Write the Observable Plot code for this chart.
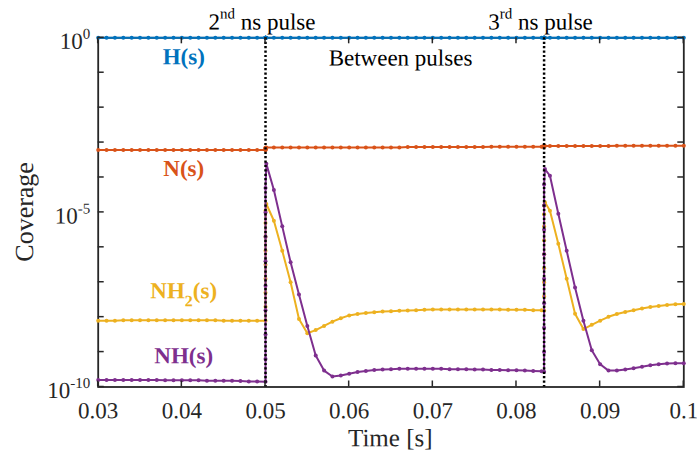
<!DOCTYPE html>
<html><head><meta charset="utf-8">
<script src="https://cdn.jsdelivr.net/npm/d3@7"></script>
<script src="https://cdn.jsdelivr.net/npm/@observablehq/plot@0.6"></script>
<style>body{margin:0;background:#fff} svg{display:block} svg text{font-family:"Liberation Serif","Times New Roman",serif !important;}</style>
</head><body><div id="chart"></div>
<script>
// ---- data (time in s, coverage as log10 exponents) ----
const time = [
  0.030,0.031,0.032,0.033,0.034,0.035,0.036,0.037,0.038,0.039,0.040,0.041,0.042,0.043,0.044,0.045,0.046,0.047,0.048,0.049,0.050,
  0.05,0.05,0.05,0.05,0.05,0.05,0.05,0.05,
  0.0501,0.051,0.052,0.053,0.054,0.055,0.056,0.057,0.058,0.059,0.060,0.061,0.062,0.063,0.064,0.065,0.066,0.067,0.068,0.069,0.070,
  0.071,0.072,0.073,0.074,0.075,0.076,0.077,0.078,0.079,0.080,0.081,0.082,0.083,0.0833,
  0.0833,0.0833,0.0833,0.0833,0.0833,0.0833,0.0833,0.0833,
  0.0834,0.084,0.085,0.086,0.087,0.088,0.089,0.090,0.091,0.092,0.093,0.094,0.095,0.096,0.097,0.098,0.099,0.100
];
const logH = [
  0,0,0,0,0,0,0,0,0,0,0,0,0,0,0,0,0,0,0,0,0,
  0,0,0,0,0,0,0,0,
  0,0,0,0,0,0,0,0,0,0,0,0,0,0,0,0,0,0,0,0,0,
  0,0,0,0,0,0,0,0,0,0,0,0,0,0,
  0,0,0,0,0,0,0,0,
  0,0,0,0,0,0,0,0,0,0,0,0,0,0,0,0,0,0
];
const logN = [
  -3.21,-3.21,-3.21,-3.21,-3.21,-3.21,-3.21,-3.21,-3.21,-3.21,-3.21,-3.21,-3.21,-3.21,-3.21,-3.21,-3.21,-3.21,-3.21,-3.21,-3.21,
  -3.21,-3.20,-3.19,-3.18,-3.17,-3.16,-3.15,-3.15,
  -3.14,-3.14,-3.14,-3.14,-3.14,-3.14,-3.14,-3.14,-3.14,-3.14,-3.14,-3.14,-3.14,-3.14,-3.14,-3.14,-3.14,-3.13,-3.13,-3.13,-3.13,
  -3.13,-3.13,-3.13,-3.13,-3.13,-3.13,-3.12,-3.12,-3.12,-3.12,-3.12,-3.12,-3.12,-3.12,
  -3.12,-3.12,-3.11,-3.11,-3.11,-3.10,-3.10,-3.10,
  -3.10,-3.10,-3.10,-3.10,-3.10,-3.10,-3.10,-3.10,-3.10,-3.09,-3.09,-3.09,-3.09,-3.09,-3.09,-3.09,-3.09,-3.09
];
const logNH2 = [
  -8.10,-8.10,-8.10,-8.09,-8.09,-8.09,-8.09,-8.09,-8.09,-8.09,-8.09,-8.09,-8.09,-8.09,-8.09,-8.10,-8.10,-8.10,-8.10,-8.10,-8.10,
  -7.70,-7.30,-6.90,-6.50,-6.10,-5.70,-5.30,-4.95,
  -4.76,-5.24,-6.10,-7.00,-8.05,-8.46,-8.37,-8.25,-8.13,-8.03,-7.95,-7.91,-7.88,-7.86,-7.84,-7.83,-7.82,-7.81,-7.80,-7.79,-7.78,
  -7.78,-7.78,-7.78,-7.78,-7.78,-7.78,-7.78,-7.78,-7.79,-7.79,-7.79,-7.80,-7.80,-7.81,
  -7.40,-7.00,-6.60,-6.20,-5.80,-5.40,-5.05,-4.80,
  -4.71,-4.95,-5.90,-6.90,-7.90,-8.34,-8.22,-8.10,-7.99,-7.91,-7.85,-7.80,-7.75,-7.71,-7.68,-7.65,-7.63,-7.62
];
const logNH = [
  -9.80,-9.80,-9.80,-9.80,-9.80,-9.80,-9.80,-9.80,-9.81,-9.81,-9.81,-9.81,-9.81,-9.82,-9.82,-9.82,-9.82,-9.83,-9.84,-9.84,-9.85,
  -9.20,-8.50,-7.80,-7.10,-6.40,-5.70,-5.00,-4.30,
  -3.61,-4.36,-5.40,-6.43,-7.35,-8.25,-9.10,-9.53,-9.70,-9.67,-9.62,-9.57,-9.54,-9.51,-9.50,-9.49,-9.48,-9.48,-9.48,-9.48,-9.48,
  -9.48,-9.49,-9.49,-9.49,-9.50,-9.50,-9.51,-9.51,-9.52,-9.52,-9.53,-9.54,-9.55,-9.56,
  -9.00,-8.30,-7.60,-6.90,-6.20,-5.50,-4.80,-4.20,
  -3.76,-3.95,-5.04,-6.10,-7.15,-8.10,-8.95,-9.35,-9.53,-9.53,-9.50,-9.46,-9.42,-9.38,-9.35,-9.33,-9.32,-9.32
];
const seriesNames = ["H(s)", "N(s)", "NH2(s)", "NH(s)"];
const seriesColors = ["#0072BD", "#D95319", "#EDB120", "#7E2F8E"];
const pulseTimes = [0.05, 0.0833];
const pulseLabels = [["2", "nd", " ns pulse"], ["3", "rd", " ns pulse"]];
const xTicks = [0.03, 0.04, 0.05, 0.06, 0.07, 0.08, 0.09, 0.1];
const xTickLabels = ["0.03", "0.04", "0.05", "0.06", "0.07", "0.08", "0.09", "0.1"];
const yTicks = [1e-10, 1e-9, 1e-8, 1e-7, 1e-6, 1e-5, 1e-4, 1e-3, 1e-2, 1e-1, 1];
const yLabelTicks = [1e-10, 1e-5, 1];
const yLabelExp = ["-10", "-5", "0"];
// label anchor points (time, log10 coverage)
const labelTime = [0.0403, 0.0403, 0.0403, 0.0403];
const labelLog = [-0.77, -3.97, -7.47, -9.33];

// ---- build ----
const allLogs = [logH, logN, logNH2, logNH];
const rows = (logs) => time.map((t, i) => ({t, v: Math.pow(10, logs[i])}));
const FONT = "'Liberation Serif', 'Times New Roman', serif";
const ink = "#262626";

const marks = [
  Plot.frame({stroke: ink, strokeWidth: 1.8}),
  Plot.axisX(xTicks, {anchor: "bottom", tickSize: 0, tickPadding: 15, tickFormat: (d) => xTickLabels[xTicks.indexOf(d)], fontSize: 23, fill: ink, label: null}),
  Plot.axisY(yLabelTicks, {anchor: "left", tickSize: 0, tickPadding: 8, tickFormat: (d) => yLabelExp[yLabelTicks.indexOf(d)], fontSize: 23, fill: ink, label: null})
];
allLogs.forEach((logs, k) => {
  const d = rows(logs);
  marks.push(Plot.line(d, {x: "t", y: "v", stroke: seriesColors[k], strokeWidth: 2}));
  marks.push(Plot.dot(d, {x: "t", y: "v", fill: seriesColors[k], r: 2}));
});
marks.push(Plot.ruleX(pulseTimes, {stroke: "#000", strokeWidth: 2.5, strokeDasharray: "2.2,2.2"}));

const plot = Plot.plot({
  width: 697, height: 456,
  marginLeft: 97.7, marginRight: 13.7, marginTop: 37.3, marginBottom: 69.5,
  style: {fontFamily: FONT, fontSize: "23px", background: "#fff", color: ink, overflow: "visible"},
  x: {domain: [0.03, 0.1], axis: null},
  y: {type: "log", domain: [1e-10, 1], axis: null},
  marks
});
document.getElementById("chart").appendChild(plot);

const svg = d3.select(plot);
const xs = plot.scale("x"), ys = plot.scale("y");
const X0 = xs.apply(0.03), X1 = xs.apply(0.1), Y0 = ys.apply(1e-10), Y1 = ys.apply(1);

// inward tick marks on all four sides
const tk = svg.append("g").attr("stroke", ink).attr("stroke-width", 1.5);
xTicks.forEach((v) => {
  const x = xs.apply(v);
  tk.append("line").attr("x1", x).attr("x2", x).attr("y1", Y0).attr("y2", Y0 - 6);
  tk.append("line").attr("x1", x).attr("x2", x).attr("y1", Y1).attr("y2", Y1 + 6);
});
yTicks.forEach((v) => {
  const y = ys.apply(v);
  tk.append("line").attr("x1", X0).attr("x2", X0 + 6).attr("y1", y).attr("y2", y);
  tk.append("line").attr("x1", X1).attr("x2", X1 - 6).attr("y1", y).attr("y2", y);
});

// y tick labels as 10^n
svg.selectAll("g[aria-label='y-axis tick label'] text").each(function () {
  const e = this.textContent;
  const t = d3.select(this);
  t.text(null).attr("y", 11).attr("dy", null);
  t.append("tspan").text("10");
  t.append("tspan").attr("dy", -10).attr("font-size", 15).text(e);
});

// axis titles
svg.append("text").attr("x", (X0 + X1) / 2).attr("y", 446).attr("text-anchor", "middle")
  .attr("font-size", 25).attr("fill", ink).text("Time [s]");
svg.append("text").attr("transform", `translate(33,${(Y0 + Y1) / 2}) rotate(-90)`).attr("text-anchor", "middle")
  .attr("font-size", 26).attr("fill", ink).text("Coverage");

// pulse annotations
pulseTimes.forEach((p, i) => {
  const t = svg.append("text").attr("x", xs.apply(p) - 3).attr("y", Y1 - 8).attr("text-anchor", "middle")
    .attr("font-size", 23).attr("fill", "#000");
  t.append("tspan").text(pulseLabels[i][0]);
  t.append("tspan").attr("dy", -11).attr("font-size", 15).text(pulseLabels[i][1]);
  t.append("tspan").attr("dy", 11).text(pulseLabels[i][2]);
});
svg.append("text").attr("x", xs.apply(0.0662)).attr("y", Y1 + 28).attr("text-anchor", "middle")
  .attr("font-size", 23).attr("fill", "#000").text("Between pulses");

// species labels
seriesNames.forEach((name, k) => {
  const t = svg.append("text").attr("x", xs.apply(labelTime[k])).attr("y", ys.apply(Math.pow(10, labelLog[k])))
    .attr("text-anchor", "middle").attr("font-size", 23).attr("font-weight", "bold").attr("fill", seriesColors[k]);
  if (name === "NH2(s)") {
    t.append("tspan").text("NH");
    t.append("tspan").attr("dy", 8).attr("font-size", 16).text("2");
    t.append("tspan").attr("dy", -8).text("(s)");
  } else {
    t.text(name);
  }
});
svg.selectAll("text").style("font-family", FONT).each(function () {
  const tr = this.getAttribute("transform") || "";
  this.setAttribute("transform", (tr + " rotate(0.03)").trim());
});
</script>
</body></html>
